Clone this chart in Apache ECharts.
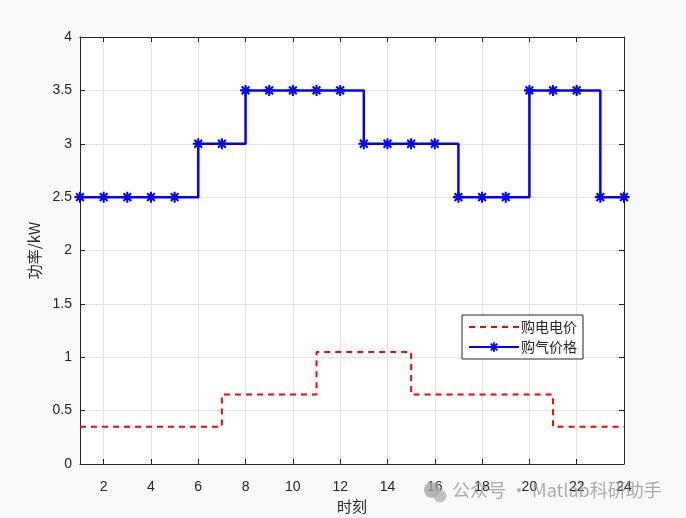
<!DOCTYPE html>
<html><head><meta charset="utf-8">
<script src="https://cdn.jsdelivr.net/npm/echarts@6/dist/echarts.min.js"></script>
<style>html,body{margin:0;padding:0;background:#fafafa}#c{width:686px;height:518px}</style>
</head><body><div id="c"></div>
<script>
const hours = [1,2,3,4,5,6,7,8,9,10,11,12,13,14,15,16,17,18,19,20,21,22,23,24];
const elecPrice = [0.35,0.35,0.35,0.35,0.35,0.35,0.65,0.65,0.65,0.65,1.05,1.05,1.05,1.05,0.65,0.65,0.65,0.65,0.65,0.65,0.35,0.35,0.35,0.35];
const gasPrice = [2.5,2.5,2.5,2.5,2.5,3.0,3.0,3.5,3.5,3.5,3.5,3.5,3.0,3.0,3.0,3.0,2.5,2.5,2.5,3.5,3.5,3.5,2.5,2.5];
const xTicks = [2,4,6,8,10,12,14,16,18,20,22,24];
const seriesNames = ['购电电价','购气价格'];

const chart = echarts.init(document.getElementById('c'));
const font = 'Liberation Sans, Arial, sans-serif';
const axCol = '#262626';
const star = 'path://M-1.7,-9L1.7,-9L1.7,-4.2L5.2,-7.6L7.4,-5.3L4.2,-1.7L9,-1.7L9,1.7L4.2,1.7L7.4,5.3L5.2,7.6L1.7,4.2L1.7,9L-1.7,9L-1.7,4.2L-5.2,7.6L-7.4,5.3L-4.2,1.7L-9,1.7L-9,-1.7L-4.2,-1.7L-7.4,-5.3L-5.2,-7.6L-1.7,-4.2Z';
const xBase = {
  type:'value', min:1, max:24,
  axisLine:{show:true,onZero:false,lineStyle:{color:axCol,width:1}},
  axisTick:{show:true,inside:true,length:5,customValues:xTicks,lineStyle:{color:axCol}},
  splitLine:{show:false}
};
const yBase = {
  type:'value', min:0, max:4, interval:0.5,
  axisLine:{show:true,onZero:false,lineStyle:{color:axCol,width:1}},
  axisTick:{show:true,inside:true,length:5,lineStyle:{color:axCol}},
  splitLine:{show:false}
};
chart.setOption({
  backgroundColor:'#fafafa',
  animation:false,
  grid:{left:80,right:62,top:37,bottom:54,outerBoundsMode:'none',containLabel:false,show:true,backgroundColor:'#ffffff',borderWidth:0},
  xAxis:[
    Object.assign({}, xBase, {position:'bottom',
      name:'时刻', nameLocation:'middle', nameGap:34,
      nameTextStyle:{fontFamily:'Noto Sans CJK SC',fontSize:15,color:axCol},
      axisLabel:{show:true,customValues:xTicks,color:axCol,fontFamily:font,fontSize:14,margin:16},
      splitLine:{show:true,lineStyle:{color:'#e3e3e3',width:1}}}),
    Object.assign({}, xBase, {position:'top', axisLabel:{show:false}})
  ],
  yAxis:[
    Object.assign({}, yBase, {position:'left',
      name:'功率/kW', nameLocation:'middle', nameGap:38,
      nameTextStyle:{fontFamily:'Noto Sans CJK SC',fontSize:15,color:axCol},
      axisLabel:{show:true,color:axCol,fontFamily:font,fontSize:14,margin:8},
      splitLine:{show:true,lineStyle:{color:'#e3e3e3',width:1}}}),
    Object.assign({}, yBase, {position:'right', axisLabel:{show:false}})
  ],
  legend:{
    left:462, top:315, orient:'vertical',
    backgroundColor:'#ffffff', borderColor:'#262626', borderWidth:1, borderRadius:0,
    padding:[5,6,5,6], itemGap:6, itemWidth:50, itemHeight:12,
    textStyle:{fontFamily:'Noto Sans CJK SC',fontSize:14,color:axCol,padding:[0,0,0,-3]},
    data:[{name:seriesNames[0], itemStyle:{opacity:0}}, {name:seriesNames[1]}]
  },
  series:[
    {name:seriesNames[0], type:'line', step:'end', data:hours.map((h,i)=>[h,elecPrice[i]]),
     symbol:'none', lineStyle:{color:'#ff0000',width:2,type:[6,5]}, itemStyle:{color:'#ff0000'}},
    {name:seriesNames[1], type:'line', step:'end', data:hours.map((h,i)=>[h,gasPrice[i]]),
     symbol:star, symbolSize:11, lineStyle:{color:'#0000ff',width:2.5}, itemStyle:{color:'#0000ff'}}
  ],
  graphic:[
    {type:'circle', shape:{cx:432,cy:490,r:8}, style:{fill:'rgba(160,160,160,0.75)'}, z:100},
    {type:'circle', shape:{cx:440,cy:496,r:6.5}, style:{fill:'rgba(175,175,175,0.75)'}, z:100},
    {type:'text', left:452, top:481, z:100, style:{text:'公众号 · Matlab科研助手', fill:'rgba(150,150,150,0.8)', font:'18px "Noto Sans CJK SC"'}}
  ]
});
</script></body></html>
